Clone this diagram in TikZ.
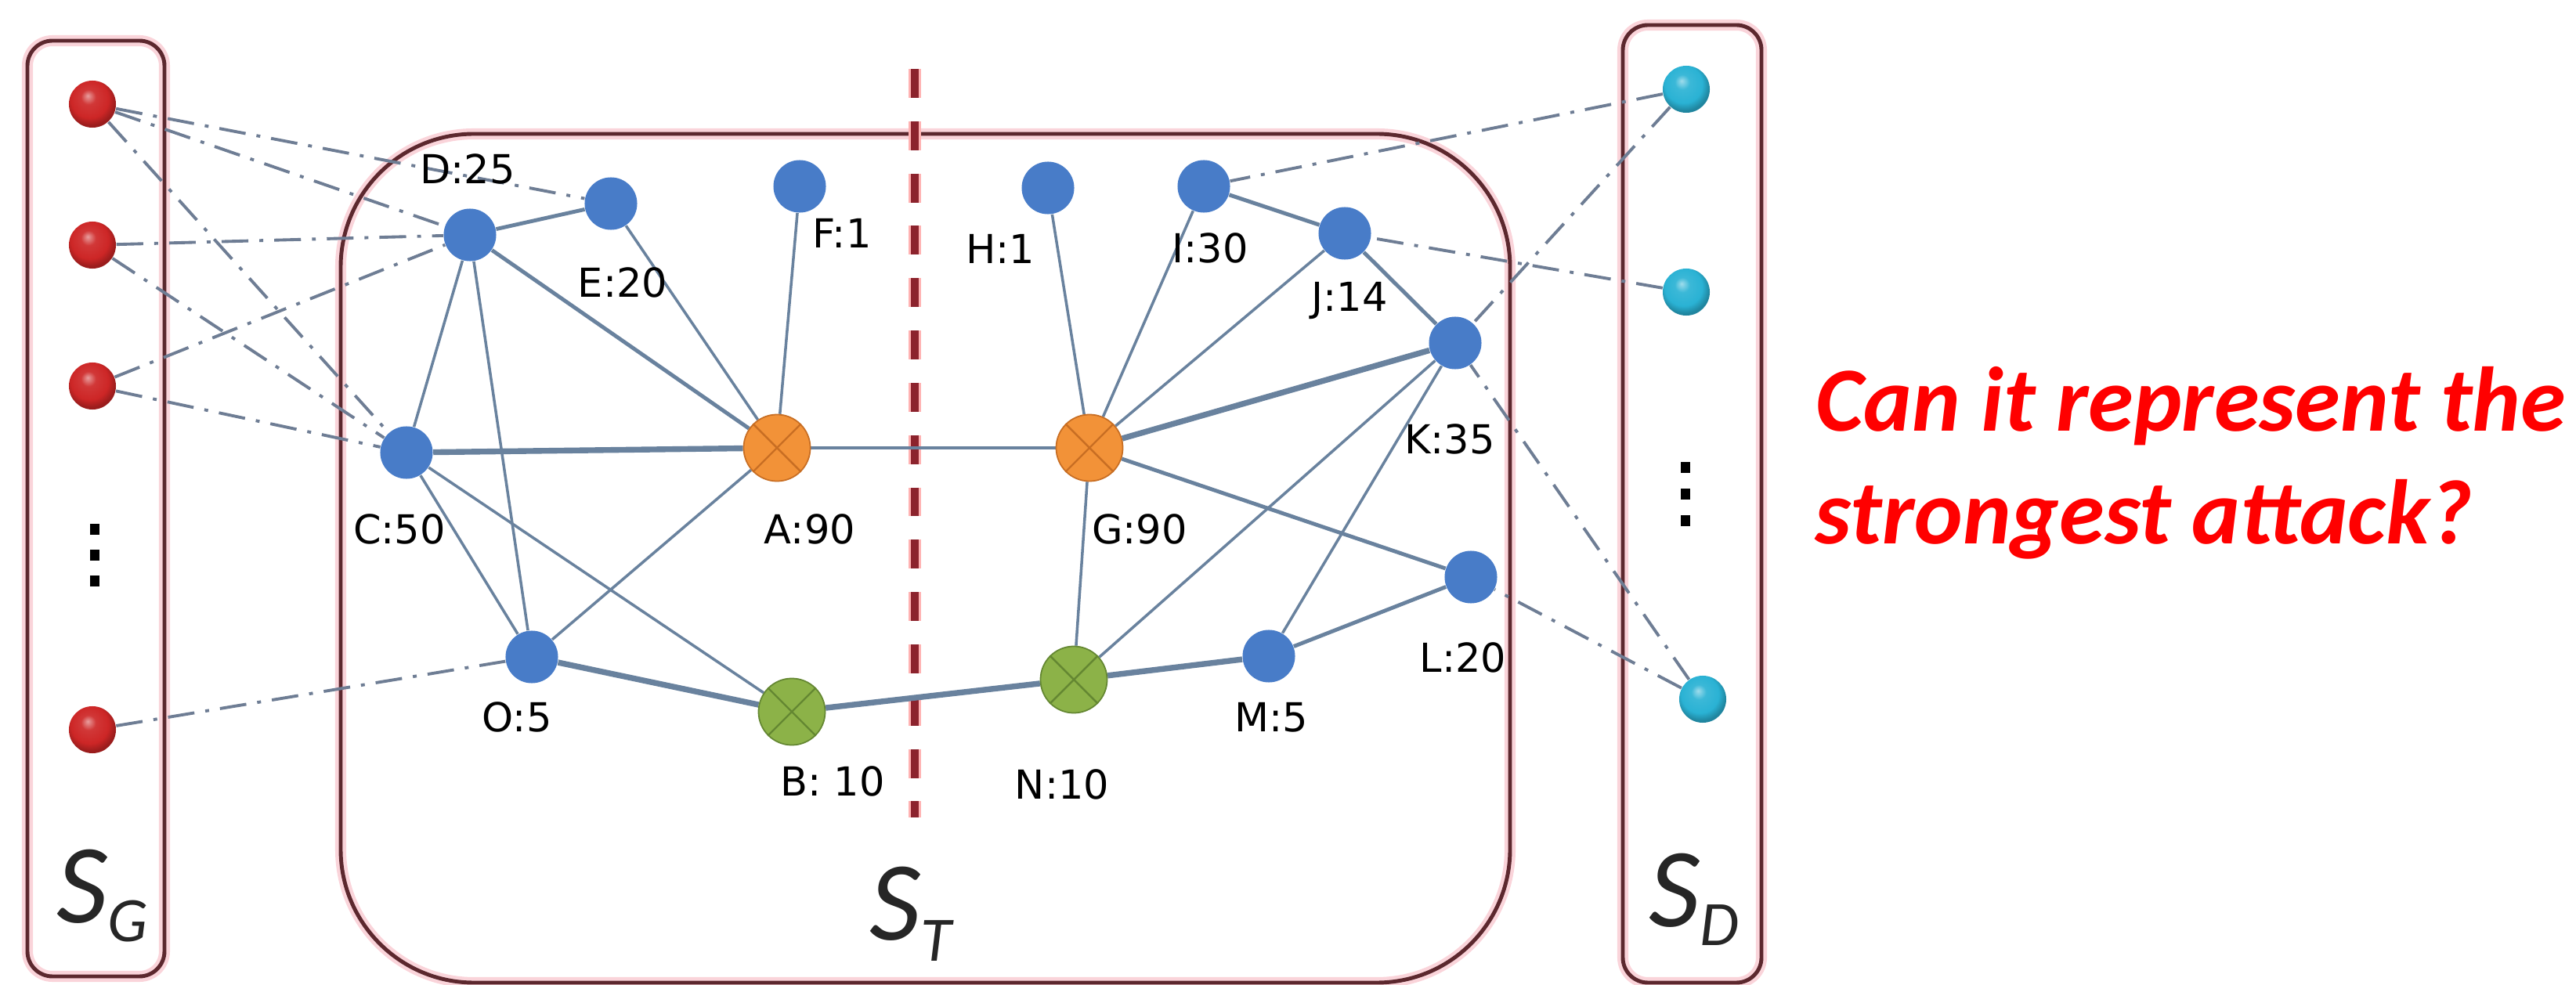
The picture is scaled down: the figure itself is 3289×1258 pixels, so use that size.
\documentclass[tikz,border=0pt]{standalone}
\usepackage{fontspec}
\setmainfont{DejaVu Sans}
\newfontfamily\carl{Carlito}
\usetikzlibrary{calc}
\pgfdeclarelayer{bg}
\pgfsetlayers{bg,main}
\definecolor{nodeblue}{RGB}{72,124,200}
\definecolor{ballred}{RGB}{205,38,38}
\definecolor{ballcyan}{RGB}{42,178,212}
\definecolor{orangefill}{RGB}{242,146,56}
\definecolor{orangeline}{RGB}{200,110,35}
\definecolor{greenfill}{RGB}{140,178,72}
\definecolor{greenline}{RGB}{100,135,50}
\definecolor{edgecol}{RGB}{105,130,158}
\definecolor{ddcol}{RGB}{110,125,148}
\definecolor{boxcol}{RGB}{92,40,46}
\definecolor{glowcol}{RGB}{250,212,218}
\definecolor{sepcol}{RGB}{140,35,45}
\pgfdeclareradialshading{redglobe}{\pgfpoint{-5bp}{9bp}}{color(0bp)=(ballred!45!white); color(8bp)=(ballred!92!white); color(20bp)=(ballred); color(27bp)=(ballred!75!black); color(50bp)=(ballred!75!black)}
\pgfdeclareradialshading{cyanglobe}{\pgfpoint{-5bp}{9bp}}{color(0bp)=(ballcyan!45!white); color(8bp)=(ballcyan!92!white); color(20bp)=(ballcyan); color(27bp)=(ballcyan!75!black); color(50bp)=(ballcyan!75!black)}
\begin{document}
\begin{tikzpicture}[x=0.01cm,y=-0.01cm,
  bnode/.style={circle,fill=nodeblue,minimum size=0.67cm,inner sep=0pt},
  rnode/.style={circle,shading=redglobe,minimum size=0.6cm,inner sep=0pt},
  cnode/.style={circle,shading=cyanglobe,minimum size=0.6cm,inner sep=0pt},
  onode/.style={circle,fill=orangefill,draw=orangeline,line width=0.5pt,minimum size=0.85cm,inner sep=0pt},
  gnode/.style={circle,fill=greenfill,draw=greenline,line width=0.5pt,minimum size=0.85cm,inner sep=0pt},
  lbl/.style={anchor=base,inner sep=0pt,font=\fontsize{14.5}{17}\selectfont,text=black},
  edge/.style={draw=edgecol,line width=1.0pt},
  medge/.style={edge,line width=1.4pt},
  tedge/.style={edge,line width=2.1pt},
  ddot/.style={draw=ddcol,line width=1.1pt,dash pattern=on 9.7pt off 4pt on 1.4pt off 4pt},
  box/.style={draw=boxcol,line width=1.4pt},
  glow/.style={draw=glowcol,line width=4pt},
  dotsq/.style={fill=black,minimum width=0.12cm,minimum height=0.13cm,inner sep=0pt},
  slbl/.style={anchor=base west,inner sep=0pt,font=\carl\itshape\fontsize{41}{41}\selectfont,text=black!85},
  qtext/.style={anchor=base west,inner sep=0pt,font=\carl\bfseries\itshape\fontsize{33.3}{41}\selectfont,text=red}
]
\useasboundingbox (0,0) rectangle (3289,1258);

% S_G nodes
\node[rnode] (r1) at (118,133) {};
\node[rnode] (r2) at (118,313) {};
\node[rnode] (r3) at (118,493) {};
\node[rnode] (r4) at (118,932) {};
\node[dotsq] (gd1) at (121,676) {};
\node[dotsq] (gd2) at (121,709) {};
\node[dotsq] (gd3) at (121,742) {};

% S_T nodes
\node[bnode] (D) at (600,300) {};
\node[bnode] (E) at (780,260) {};
\node[bnode] (F) at (1021,238) {};
\node[bnode] (H) at (1338,240) {};
\node[bnode] (I) at (1537,238) {};
\node[bnode] (J) at (1717,298) {};
\node[bnode] (K) at (1858,438) {};
\node[bnode] (C) at (519,578) {};
\node[onode] (A) at (992,572) {};
\node[onode] (G) at (1391,572) {};
\node[bnode] (O) at (679,839) {};
\node[gnode] (B) at (1011,909) {};
\node[gnode] (N) at (1371,868) {};
\node[bnode] (M) at (1620,838) {};
\node[bnode] (L) at (1878,737) {};
\foreach \n/\c in {A/orangeline,G/orangeline,B/greenline,N/greenline}
  \draw[\c,line width=0.7pt] (\n.45) -- (\n.225) (\n.135) -- (\n.315);

% S_D nodes
\node[cnode] (c1) at (2153,114) {};
\node[cnode] (c2) at (2153,373) {};
\node[cnode] (c3) at (2174,893) {};
\node[dotsq] (dd1) at (2152,597) {};
\node[dotsq] (dd2) at (2152,631) {};
\node[dotsq] (dd3) at (2152,665) {};

% labels
\node[lbl] (lD) at (597,235) {D:25};
\node[lbl] (lE) at (795,380) {E:20};
\node[lbl] (lF) at (1075,317) {F:1};
\node[lbl] (lH) at (1277,337) {H:1};
\node[lbl] (lI) at (1545,336) {I:30};
\node[lbl] (lJ) at (1723,398) {J:14};
\node[lbl] (lK) at (1851,580) {K:35};
\node[lbl] (lC) at (510,695) {C:50};
\node[lbl] (lA) at (1034,695) {A:90};
\node[lbl] (lO) at (660,934) {O:5};
\node[lbl] (lB) at (1063,1017) {B: 10};
\node[lbl] (lG) at (1455,695) {G:90};
\node[lbl] (lN) at (1356,1020) {N:10};
\node[lbl] (lM) at (1623,934) {M:5};
\node[lbl] (lL) at (1868,859) {L:20};

% set labels
\node[slbl] (sG) at (72,1178) {S\raisebox{-0.24cm}{\fontsize{23}{23}\selectfont G}};
\node[slbl] (sT) at (1110,1200) {S\raisebox{-0.27cm}{\fontsize{23}{23}\selectfont T}};
\node[slbl] (sD) at (2105,1183) {S\raisebox{-0.24cm}{\fontsize{23}{23}\selectfont D}};

% question
\node[qtext] (q1) at (2318,551) {Can it represent the};
\node[qtext] (q2) at (2317,695) {strongest attack?};

\begin{pgfonlayer}{bg}
  % boxes
  \coordinate (gTL) at (35,52);   \coordinate (gBR) at (210,1247);
  \coordinate (tTL) at (435,171); \coordinate (tBR) at (1928,1255);
  \coordinate (dTL) at (2072,32); \coordinate (dBR) at (2249,1255);
  \foreach \s in {glow,box}{
    \draw[\s,rounded corners=0.32cm] (gTL) rectangle (gBR);
    \draw[\s,rounded corners=1.7cm] (tTL) rectangle (tBR);
    \draw[\s,rounded corners=0.32cm] (dTL) rectangle (dBR);
  }
  % separator
  \coordinate (sepT) at (1168,88);
  \coordinate (sepB) at (1168,1044);
  \draw[draw=red!30,line width=4.5pt,dash pattern=on 10.5pt off 8.5pt] (sepT) -- (sepB);
  \draw[draw=sepcol,line width=2.8pt,dash pattern=on 10.5pt off 8.5pt] (sepT) -- (sepB);

  % dash-dot links
  \draw[ddot] (r1) -- (E);
  \draw[ddot] (r1) -- (D);
  \draw[ddot] (r1) -- (C);
  \draw[ddot] (r2) -- (D);
  \draw[ddot] (r2) -- (C);
  \draw[ddot] (r3) -- (D);
  \draw[ddot] (r3) -- (C);
  \draw[ddot] (r4) -- (O);
  \draw[ddot] (c1) -- (I);
  \draw[ddot] (c1) -- (K);
  \draw[ddot] (c2) -- (J);
  \draw[ddot] (c3) -- (K);
  \draw[ddot] (c3) -- (L);

  % solid edges
  \draw[medge] (D) -- (E);
  \draw[edge] (D) -- (C);
  \draw[edge] (D) -- (O);
  \draw[medge] (D) -- (A);
  \draw[edge] (E) -- (A);
  \draw[edge] (F) -- (A);
  \draw[tedge] (C) -- (A);
  \draw[edge] (C) -- (O);
  \draw[edge] (C) -- (B);
  \draw[edge] (O) -- (A);
  \draw[tedge] (O) -- (B);
  \draw[medge] (A) -- (G);
  \draw[tedge] (B) -- (N);
  \draw[edge] (H) -- (G);
  \draw[edge] (I) -- (G);
  \draw[medge] (I) -- (J);
  \draw[edge] (J) -- (G);
  \draw[medge] (J) -- (K);
  \draw[tedge] (K) -- (G);
  \draw[edge] (K) -- (N);
  \draw[edge] (K) -- (M);
  \draw[medge] (G) -- (L);
  \draw[edge] (G) -- (N);
  \draw[tedge] (N) -- (M);
  \draw[medge] (M) -- (L);
\end{pgfonlayer}
\end{tikzpicture}
\end{document}
